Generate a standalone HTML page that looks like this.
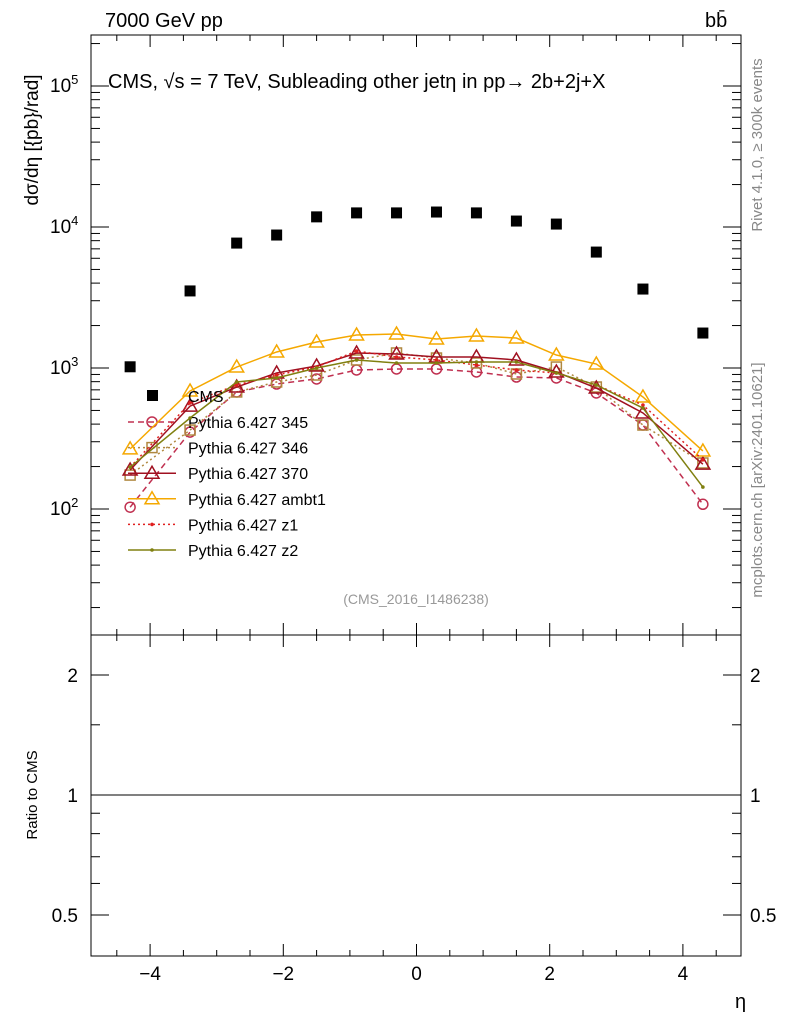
<!DOCTYPE html>
<html><head><meta charset="utf-8"><style>
body{margin:0;background:#fff;font-family:"Liberation Sans",sans-serif}
svg text{font-family:"Liberation Sans","DejaVu Sans",sans-serif}
</style></head><body>
<svg id="c" width="786" height="1024" viewBox="0 0 786 1024" xmlns="http://www.w3.org/2000/svg">
<rect x="0" y="0" width="786" height="1024" fill="#fff"/>
<text x="105" y="27" font-size="20">7000 GeV pp</text>
<text x="705" y="27" font-size="20">bb<tspan dx="-11" dy="-2">̄</tspan></text>
<text x="108" y="88" font-size="20">CMS, √s = 7 TeV, Subleading other jetη in pp→  2b+2j+X</text>
<text transform="translate(38,140) rotate(-90)" text-anchor="middle" font-size="19">dσ/dη [{pb}/rad]</text>
<text transform="translate(762,145) rotate(-90)" text-anchor="middle" font-size="15" fill="#888">Rivet 4.1.0, ≥ 300k events</text>
<text transform="translate(762,480) rotate(-90)" text-anchor="middle" font-size="15" fill="#888">mcplots.cern.ch [arXiv:2401.10621]</text>
<text x="416" y="604" text-anchor="middle" font-size="14" fill="#999">(CMS_2016_I1486238)</text>
<text transform="translate(37,795) rotate(-90)" text-anchor="middle" font-size="15">Ratio to CMS</text>
<text x="735" y="1008" font-size="20">η</text>
<g id="g"></g>
</svg>
<script>
const xs=[-4.3,-3.4,-2.7,-2.1,-1.5,-0.9,-0.3,0.3,0.9,1.5,2.1,2.7,3.4,4.3];
const cms=[1020,3520,7690,8770,11800,12590,12590,12770,12590,11020,10490,6640,3630,1770];
const p345=[103,351,676,770,836,968,984,984,937,863,850,665,394,108];
const p346=[174,363,676,796,892,1140,1278,1177,1085,907,1016,733,394,212];
const p370=[189,537,733,922,1033,1278,1257,1197,1197,1140,937,721,480,208];
const ambt1=[267,687,1016,1299,1529,1714,1742,1605,1686,1632,1236,1067,623,258];
const z1=[198,565,758,892,1016,1320,1197,1140,1050,968,922,758,546,223];
const z2=[198,442,796,849,1000,1140,1085,1085,1103,1103,922,758,520,143];
const yTicks=[2,3,4,5];
const xTickLabels=[-4,-2,0,2,4];
const ratioTicks=[0.5,1,2];
const NS='http://www.w3.org/2000/svg';
const g=document.getElementById('g');
const L=91,R=741,T=35,B=635,RB=956;
const X=v=>416.5+v*66.6;
const Y=v=>368-(Math.log10(v)-3)*141;
const RY=v=>795-Math.log2(v)*120;
function mk(t,a,p){const e=document.createElementNS(NS,t);for(const k in a)e.setAttribute(k,a[k]);(p||g).appendChild(e);return e;}
let e;
e=mk('rect',{x:L,y:T,width:R-L,height:B-T,fill:'none',stroke:'#000','stroke-width':1});


e=mk('rect',{x:L,y:B,width:R-L,height:RB-B,fill:'none',stroke:'#000','stroke-width':1});


for(let v=-4.5;v<=5.01;v+=0.5){const x=X(v);if(x<L||x>R)continue;const maj=Math.abs(v%2)<1e-6;const len=maj?12:6;
 [[B,-1],[T,1],[RB,-1],[B,1]].forEach(([y,d])=>{mk('line',{x1:x,x2:x,y1:y,y2:y+d*len,stroke:'#000'});});}
xTickLabels.forEach(v=>{e=mk('text',{x:X(v),y:980,'text-anchor':'middle','font-size':19});e.textContent=(v<0?'−':'')+Math.abs(v);

});
for(let d=1;d<=5;d++)for(let m=1;m<10;m++){const v=m*Math.pow(10,d);const y=Y(v);if(y<T||y>B)continue;const len=m==1?18:9;
 mk('line',{x1:L,x2:L+len,y1:y,y2:y,stroke:'#000'});mk('line',{x1:R,x2:R-len,y1:y,y2:y,stroke:'#000'});}
yTicks.forEach(p=>{e=mk('text',{x:50,y:Y(Math.pow(10,p))+6,'font-size':19});e.innerHTML='10<tspan dy="-8" font-size="13">'+p+'</tspan>';

});
[0.5,0.6,0.7,0.8,0.9,1,1.5,2].forEach(v=>{const y=RY(v);const len=[0.5,1,2].includes(v)?18:9;
 mk('line',{x1:L,x2:L+len,y1:y,y2:y,stroke:'#000'});mk('line',{x1:R,x2:R-len,y1:y,y2:y,stroke:'#000'});});
ratioTicks.forEach(v=>{[[78,'end'],[750,'start']].forEach(([x,a])=>{e=mk('text',{x:x,y:RY(v)+7,'text-anchor':a,'font-size':19});e.textContent=v;

});});
e=mk('line',{x1:L,x2:R,y1:RY(1),y2:RY(1),stroke:'#000'});


function marker(p,type,x,y,c){
 if(type=='circle')mk('circle',{cx:x,cy:y,r:5,fill:'none',stroke:c,'stroke-width':1.5},p);
 else if(type=='square')mk('rect',{x:x-5,y:y-5,width:10,height:10,fill:'none',stroke:c,'stroke-width':1.5},p);
 else if(type=='tri')mk('polygon',{points:`${x},${y-7} ${x-7},${y+5} ${x+7},${y+5}`,fill:'none',stroke:c,'stroke-width':1.5},p);
 else if(type=='dot')mk('circle',{cx:x,cy:y,r:1.8,fill:c},p);
}
const series=[
 {n:'Pythia 6.427 345',d:p345,c:'#c03050',dash:'6,4',m:'circle',w:1.5},
 {n:'Pythia 6.427 346',d:p346,c:'#b08840',dash:'2,3',m:'square',w:1.5},
 {n:'Pythia 6.427 370',d:p370,c:'#a01020',dash:'',m:'tri',w:1.5},
 {n:'Pythia 6.427 ambt1',d:ambt1,c:'#f5a800',dash:'',m:'tri',w:1.5},
 {n:'Pythia 6.427 z1',d:z1,c:'#e02020',dash:'2,3',m:'dot',w:1.5},
 {n:'Pythia 6.427 z2',d:z2,c:'#808010',dash:'',m:'dot',w:1.5}];
series.forEach((s,i)=>{
 const sg=mk('g',{});
 
 
 mk('polyline',{points:xs.map((x,j)=>X(x)+','+Y(s.d[j])).join(' '),fill:'none',stroke:s.c,'stroke-width':s.w,'stroke-dasharray':s.dash},sg);
 xs.forEach((x,j)=>marker(sg,s.m,X(x),Y(s.d[j]),s.c));
 const ly=422+i*25.6;
 const lg=mk('g',{});
 
 
 mk('line',{x1:128,x2:176,y1:ly,y2:ly,stroke:s.c,'stroke-width':s.w,'stroke-dasharray':s.dash},lg);
 marker(lg,s.m,152,ly,s.c);
 const t=mk('text',{x:188,y:ly+6,'font-size':16},lg);t.textContent=s.n;
});
const cg=mk('g',{});


xs.forEach((x,j)=>mk('rect',{x:X(x)-5.5,y:Y(cms[j])-5.5,width:11,height:11,fill:'#000'},cg));
const cl=mk('g',{});


mk('rect',{x:147,y:390,width:11,height:11,fill:'#000'},cl);
const ct=mk('text',{x:188,y:402,'font-size':16},cl);ct.textContent='CMS';
</script>
</body></html>
